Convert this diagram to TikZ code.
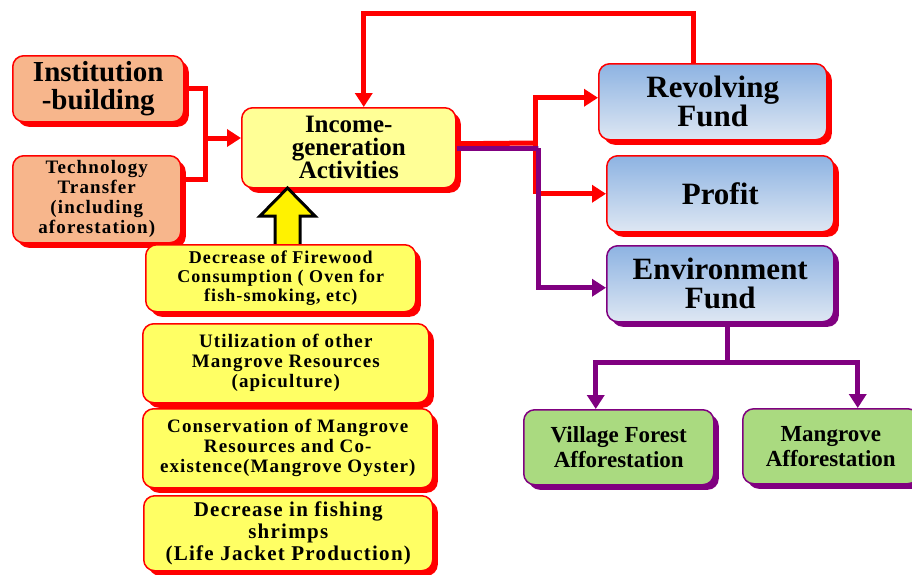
\documentclass[tikz,border=0pt]{standalone}
\usepackage{fontspec}
\setmainfont{Liberation Serif}
\newfontfamily\spreadfont[LetterSpace=6]{Liberation Serif}
\usetikzlibrary{arrows.meta,shadows}
\definecolor{peach}{RGB}{247,182,140}
\definecolor{boxyellow}{RGB}{255,255,100}
\definecolor{paleyellow}{RGB}{255,255,150}
\definecolor{leafgreen}{RGB}{170,218,128}
\definecolor{skytop}{RGB}{141,179,226}
\definecolor{skybottom}{RGB}{222,231,243}
\definecolor{plum}{RGB}{128,0,128}
\newcommand\fsz[2]{\fontsize{#1}{#2}\selectfont}
\tikzset{
  card/.style={rounded corners=11pt, line width=1.5pt, anchor=north west,
    align=center, inner sep=0pt},
  redcard/.style={card, draw=red,
    drop shadow={shadow xshift=5pt, shadow yshift=-5pt, fill=red, opacity=1}},
  plumcard/.style={card, draw=plum,
    drop shadow={shadow xshift=5pt, shadow yshift=-5pt, fill=plum, opacity=1}},
  bluefill/.style={top color=skytop, bottom color=skybottom},
  redline/.style={draw=red, line width=5pt},
  plumline/.style={draw=plum, line width=5pt},
  tip/.style={-{Triangle[width=17pt,length=14pt]}},
}
\begin{document}
\begin{tikzpicture}[x=1pt, y=-1pt]
\fill[white] (0,0) rectangle (912,574);
\useasboundingbox (0,0) rectangle (912,574);

% inputs on the left
\node[redcard, fill=peach, minimum width=171pt, minimum height=66pt,
  font=\bfseries\fsz{29}{28}] (inst) at (12,55) {Institution\\-building};
\node[redcard, fill=peach, minimum width=168pt, minimum height=87pt,
  font=\spreadfont\bfseries\fsz{19}{20}] (tech) at (12,155)
  {Technology\\Transfer\\(including\\aforestation)};

% central activity
\node[redcard, fill=paleyellow, minimum width=214pt, minimum height=80pt,
  font=\bfseries\fsz{25}{23}] (income) at (241,107)
  {Income-\\generation\\Activities};

% outputs
\node[redcard, bluefill, minimum width=228pt, minimum height=76pt,
  font=\bfseries\fsz{31}{29}] (rev) at (598,63) {Revolving\\Fund};
\node[redcard, bluefill, minimum width=227pt, minimum height=76pt,
  font=\bfseries\fsz{31}{29}] (profit) at (606,155) {Profit};
\node[plumcard, bluefill, minimum width=227pt, minimum height=76pt,
  font=\bfseries\fsz{31}{29}] (env) at (606,245) {Environment\\Fund};

% afforestation
\node[plumcard, fill=leafgreen, minimum width=190pt, minimum height=75pt,
  font=\bfseries\fsz{23}{25}] (village) at (523,409)
  {Village Forest\\Afforestation};
\node[plumcard, fill=leafgreen, minimum width=176pt, minimum height=75pt,
  font=\bfseries\fsz{23}{25}] (mangrove) at (742,408)
  {Mangrove\\Afforestation};

% upward arrow into the activities
\draw[line width=3pt, fill=yellow, line join=miter]
  (287.5,188) -- (315,216) -- (300,216) -- (300,248) -- (275,248)
  -- (275,216) -- (260,216) -- cycle;

% activity examples
\node[redcard, fill=boxyellow, minimum width=270pt, minimum height=67pt,
  font=\spreadfont\bfseries\fsz{18}{19}] (fire) at (145,244)
  {Decrease of Firewood\\Consumption ( Oven for\\fish-smoking, etc)};
\node[redcard, fill=boxyellow, minimum width=286pt, minimum height=79pt,
  font=\spreadfont\bfseries\fsz{19}{20}] (util) at (142,323)
  {Utilization of other\\Mangrove Resources\\(apiculture)};
\node[redcard, fill=boxyellow, minimum width=290pt, minimum height=79pt,
  font=\spreadfont\bfseries\fsz{19}{20}] (cons) at (142,408)
  {Conservation of Mangrove\\Resources and Co-\\existence(Mangrove Oyster)};
\node[redcard, fill=boxyellow, minimum width=289pt, minimum height=75pt,
  font=\spreadfont\bfseries\fsz{21}{22}] (fish) at (143,495)
  {Decrease in fishing\\shrimps\\(Life Jacket Production)};

% left junction
\coordinate (lj) at (205,138);
\draw[redline] (inst.east) -| (lj) |- ([yshift=20pt]tech.east);
\draw[redline, tip] (lj) -- (lj -| income.west);

% feedback loop from the revolving fund
\draw[redline, tip] ([xshift=-19pt]rev.north) -- ++(0,-50)
  -| ([xshift=15pt]income.north);

% right junction
\coordinate (rj) at (535,143);
\coordinate (pj) at (538,148);
\draw[redline] ([yshift=4pt]income.east) -- (rj);
\draw[redline, tip] (rj) |- ([yshift=4pt]rev.west);
\draw[redline] (rj) -- (rj |- profit.west);
\draw[redline, tip] (pj |- profit.west) -- (profit.west);
\draw[plumline, tip] ([yshift=-1pt]income.east) -| (pj) |- ([yshift=-4pt]env.west);

% environment fund branches
\coordinate (ej) at (727,362);
\draw[plumline] (env.south -| ej) -- (ej);
\draw[plumline, tip] (ej) -| ([xshift=-23pt]village.north);
\draw[plumline, tip] (ej) -| ([xshift=27pt]mangrove.north);
\end{tikzpicture}
\end{document}
